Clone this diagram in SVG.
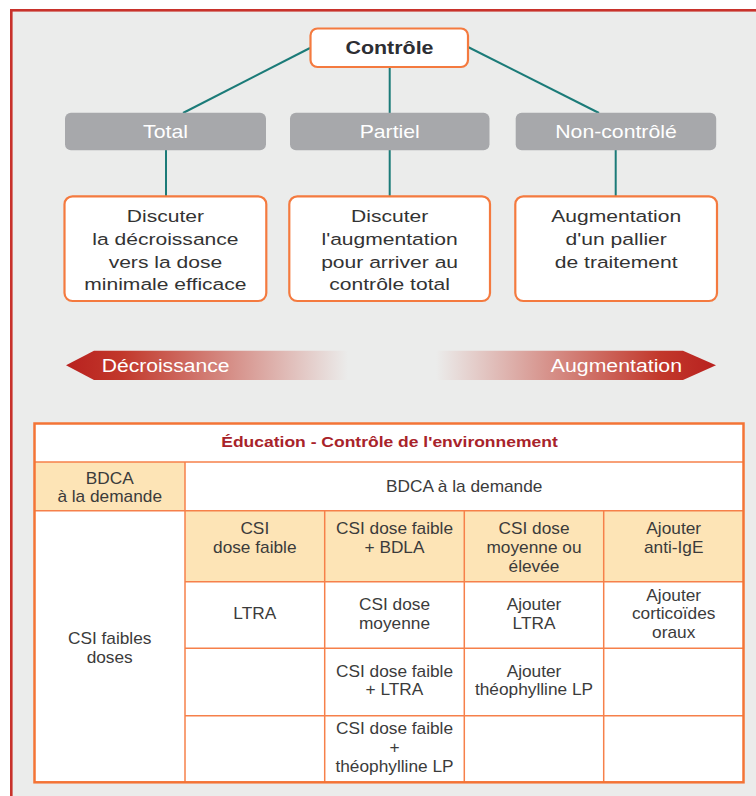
<svg xmlns="http://www.w3.org/2000/svg" width="756" height="796" viewBox="0 0 756 796">
<defs>
<style>
.frame{fill:#ebeceb;stroke:#c8322b;stroke-width:2.6}
.conn line{stroke:#1b7b78;stroke-width:2}
.obox{fill:#ffffff;stroke:#f47a3f;stroke-width:2.2}
.gbox{fill:#a7a8ab}
.t{font-family:"Liberation Sans",Arial,sans-serif;text-anchor:middle}
.ctl{font-size:18px;font-weight:bold;fill:#2d2e33}
.gl{font-size:18px;fill:#ffffff}
.bx{font-size:17px;fill:#333333}
.arr{font-family:"Liberation Sans",Arial,sans-serif;font-size:18.5px;fill:#ffffff}
.cell{stroke:#f6804a;stroke-width:1.5}
.hdr{fill:#fde4b6}
.tb{font-size:16px;fill:#3b3b3b}
.ttl{font-size:15.5px;font-weight:bold;fill:#a8232a}
</style>
<linearGradient id="gL" x1="66" y1="0" x2="348" y2="0" gradientUnits="userSpaceOnUse">
<stop offset="0" stop-color="#b8211f"/>
<stop offset="0.2" stop-color="#c2382b"/>
<stop offset="1" stop-color="#c2382b" stop-opacity="0"/>
</linearGradient>
<linearGradient id="gR" x1="716" y1="0" x2="436" y2="0" gradientUnits="userSpaceOnUse">
<stop offset="0" stop-color="#b8211f"/>
<stop offset="0.2" stop-color="#c2382b"/>
<stop offset="1" stop-color="#c2382b" stop-opacity="0"/>
</linearGradient>
</defs>
<rect x="0" y="0" width="756" height="796" fill="#ffffff"/>
<rect class="frame" x="11.3" y="10.3" width="760" height="800"/>

<g id="connectors" class="conn">
<line x1="310" y1="48" x2="183" y2="113"/>
<line x1="389.7" y1="67" x2="389.7" y2="113"/>
<line x1="468" y1="47" x2="599" y2="113"/>
<line x1="166" y1="150" x2="166" y2="196"/>
<line x1="389.7" y1="150" x2="389.7" y2="196"/>
<line x1="615.7" y1="150" x2="615.7" y2="196"/>
</g>

<g id="controle">
<rect class="obox" x="310.5" y="28.5" width="157.5" height="38.5" rx="7"/>
<text class="t ctl" transform="translate(389.5 0) scale(1.19 1)" x="0" y="54.3">Contrôle</text>
</g>

<g id="total">
<rect class="gbox" x="65" y="112.7" width="201" height="37.5" rx="6"/>
<text class="t gl" transform="translate(165.5 0) scale(1.18 1)" x="0" y="137.7">Total</text>
</g>
<g id="partiel">
<rect class="gbox" x="290" y="112.7" width="199.5" height="37.5" rx="6"/>
<text class="t gl" transform="translate(389.7 0) scale(1.18 1)" x="0" y="137.7">Partiel</text>
</g>
<g id="non-controle">
<rect class="gbox" x="515.7" y="112.7" width="200.5" height="37.5" rx="6"/>
<text class="t gl" transform="translate(616 0) scale(1.18 1)" x="0" y="137.7">Non-contrôlé</text>
</g>

<g id="box-total">
<rect class="obox" x="64.5" y="196.3" width="201.8" height="104.7" rx="8"/>
<text class="t bx" transform="translate(165.4 0) scale(1.24 1)"><tspan x="0" y="222.3">Discuter</tspan><tspan x="0" y="245">la décroissance</tspan><tspan x="0" y="267.7">vers la dose</tspan><tspan x="0" y="290.3">minimale efficace</tspan></text>
</g>
<g id="box-partiel">
<rect class="obox" x="289.3" y="196.3" width="200.7" height="104.7" rx="8"/>
<text class="t bx" transform="translate(389.6 0) scale(1.24 1)"><tspan x="0" y="222.3">Discuter</tspan><tspan x="0" y="245">l'augmentation</tspan><tspan x="0" y="267.7">pour arriver au</tspan><tspan x="0" y="290.3">contrôle total</tspan></text>
</g>
<g id="box-non-controle">
<rect class="obox" x="515.3" y="196.3" width="201.7" height="104.7" rx="8"/>
<text class="t bx" transform="translate(616.2 0) scale(1.24 1)"><tspan x="0" y="222.3">Augmentation</tspan><tspan x="0" y="245">d'un pallier</tspan><tspan x="0" y="267.7">de traitement</tspan></text>
</g>

<g id="arrow-decroissance">
<polygon points="66,365.3 94,350.7 348,350.7 348,380 94,380" fill="url(#gL)"/>
<text class="arr" transform="translate(101.7 0) scale(1.14 1)" x="0" y="371.7">Décroissance</text>
</g>
<g id="arrow-augmentation">
<polygon points="436,350.7 683,350.7 716,365.3 683,380 436,380" fill="url(#gR)"/>
<text class="arr" text-anchor="end" transform="translate(682 0) scale(1.15 1)" x="0" y="371.7">Augmentation</text>
</g>

<g id="table">
<rect x="34.5" y="423.5" width="709" height="358.8" fill="#ffffff"/>
<rect class="hdr" x="34.5" y="462" width="150.5" height="48.7"/>
<rect class="hdr" x="185" y="510.7" width="558.5" height="71"/>
<g class="cell" fill="none">
<line x1="34.5" y1="462" x2="743.5" y2="462"/>
<line x1="34.5" y1="510.7" x2="743.5" y2="510.7"/>
<line x1="185" y1="581.7" x2="743.5" y2="581.7"/>
<line x1="185" y1="648.3" x2="743.5" y2="648.3"/>
<line x1="185" y1="715.7" x2="743.5" y2="715.7"/>
<line x1="185" y1="462" x2="185" y2="782.3"/>
<line x1="324.7" y1="510.7" x2="324.7" y2="782.3"/>
<line x1="464.3" y1="510.7" x2="464.3" y2="782.3"/>
<line x1="603.7" y1="510.7" x2="603.7" y2="782.3"/>
</g>
<rect x="34.5" y="423.5" width="709" height="358.8" fill="none" stroke="#f47436" stroke-width="2.5"/>
<text class="t ttl" transform="translate(389.5 0) scale(1.13 1)" x="0" y="447">Éducation - Contrôle de l'environnement</text>
<g class="t tb">
<text transform="translate(109.7 0) scale(1.08 1)"><tspan x="0" y="484">BDCA</tspan><tspan x="0" y="502">à la demande</tspan></text>
<text transform="translate(464.2 0) scale(1.08 1)" x="0" y="492.3">BDCA à la demande</text>
<text transform="translate(254.8 0) scale(1.08 1)"><tspan x="0" y="534.3">CSI</tspan><tspan x="0" y="553">dose faible</tspan></text>
<text transform="translate(394.5 0) scale(1.08 1)"><tspan x="0" y="534.3">CSI dose faible</tspan><tspan x="0" y="553">+ BDLA</tspan></text>
<text transform="translate(534 0) scale(1.08 1)"><tspan x="0" y="534.3">CSI dose</tspan><tspan x="0" y="553">moyenne ou</tspan><tspan x="0" y="571.7">élevée</tspan></text>
<text transform="translate(673.7 0) scale(1.08 1)"><tspan x="0" y="534.3">Ajouter</tspan><tspan x="0" y="553">anti-IgE</tspan></text>
<text transform="translate(254.8 0) scale(1.08 1)" x="0" y="619">LTRA</text>
<text transform="translate(394.5 0) scale(1.08 1)"><tspan x="0" y="610.5">CSI dose</tspan><tspan x="0" y="629.3">moyenne</tspan></text>
<text transform="translate(534 0) scale(1.08 1)"><tspan x="0" y="610.5">Ajouter</tspan><tspan x="0" y="629.3">LTRA</tspan></text>
<text transform="translate(673.7 0) scale(1.08 1)"><tspan x="0" y="600.7">Ajouter</tspan><tspan x="0" y="619.3">corticoïdes</tspan><tspan x="0" y="638.3">oraux</tspan></text>
<text transform="translate(394.5 0) scale(1.08 1)"><tspan x="0" y="676.7">CSI dose faible</tspan><tspan x="0" y="695.3">+ LTRA</tspan></text>
<text transform="translate(534 0) scale(1.08 1)"><tspan x="0" y="676.7">Ajouter</tspan><tspan x="0" y="695.3">théophylline LP</tspan></text>
<text transform="translate(394.5 0) scale(1.08 1)"><tspan x="0" y="734.3">CSI dose faible</tspan><tspan x="0" y="753">+</tspan><tspan x="0" y="771.7">théophylline LP</tspan></text>
<text transform="translate(109.7 0) scale(1.08 1)"><tspan x="0" y="644">CSI faibles</tspan><tspan x="0" y="662.7">doses</tspan></text>
</g>
</g>
</svg>
